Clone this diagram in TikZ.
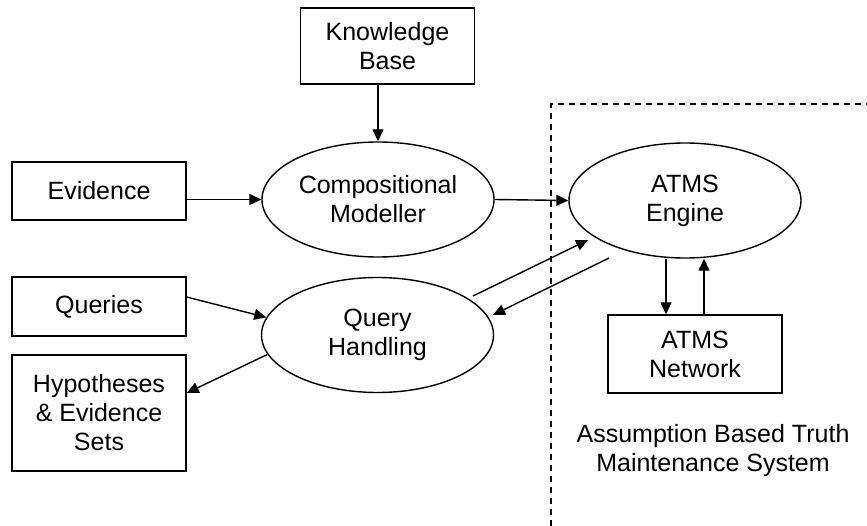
\documentclass[tikz,border=0pt]{standalone}
\usepackage{fontspec}
\setmainfont{Liberation Sans}
\usepackage{tikz}
\usetikzlibrary{shapes.geometric}
\usetikzlibrary{arrows.meta}

\begin{document}
\begin{tikzpicture}[x=1pt,y=-1pt,line width=1.4pt,
  font=\fontsize{25}{29}\selectfont,
  box/.style={draw,rectangle,align=center,minimum width=174pt,inner sep=0pt},
  proc/.style={draw,ellipse,align=center,minimum width=232pt,minimum height=115pt,inner sep=0pt},
  arr/.style={-{Triangle[length=12pt,width=11pt]}}]
\useasboundingbox (0,0) rectangle (867,526);

% boundary of the truth maintenance part
\draw [dash pattern=on 6pt off 5pt] (551,526) -- (551,104) -- (867,104);

\node [box,minimum height=76pt] (kb) at (387.5,46) {Knowledge\\Base};
\node [box,minimum height=58pt] (ev) at (99,191) {Evidence};
\node [box,minimum height=59pt] (qu) at (99,306.5) {Queries};
\node [box,minimum height=116pt] (hyp) at (99,413) {Hypotheses\\\& Evidence\\Sets};
\node [proc] (cm) at (378,199.5) {Compositional\\Modeller};
\node [proc] (qh) at (377.5,335) {Query\\Handling};
\node [proc] (atms) at (685,200.5) {ATMS\\Engine};
\node [box,minimum height=78pt] (net) at (695,354) {ATMS\\Network};
\node [align=center] (abts) at (713,451) {Assumption Based Truth\\Maintenance System};

\draw [arr] (cm.north |- kb.south) -- (cm.north);
\draw [arr] (cm.west -| ev.east) -- (cm.west);
\draw [arr] (cm.east) -- (atms.west);
\draw [arr] ([yshift=9.5pt]qu.east) -- (qh.171);
\draw [arr] (qh.190) -- ([yshift=20pt]hyp.east);
% the two parallel links between query handling and the engine
\draw [arr] ([shift={(95.5,-39)}]qh.center) -- ([shift={(-97,39.5)}]atms.center);
\draw [arr] ([shift={(-76,57.5)}]atms.center) -- ([shift={(115.5,-20)}]qh.center);
\draw [arr] ([xshift=-19pt]atms.south) -- ([xshift=-19pt]atms.south |- net.north);
\draw [arr] ([xshift=19pt]atms.south |- net.north) -- ([xshift=19pt]atms.south);

\end{tikzpicture}
\end{document}
